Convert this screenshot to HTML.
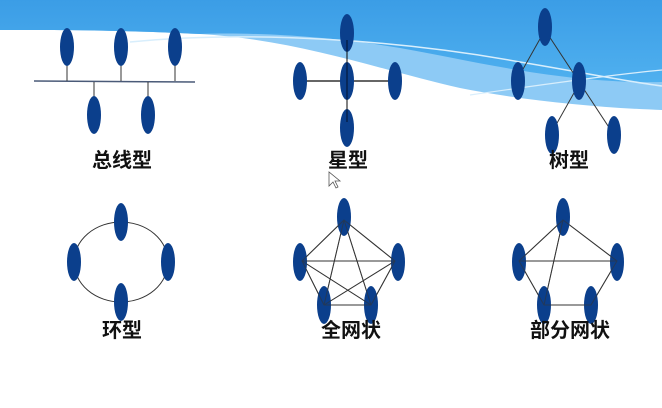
<!DOCTYPE html>
<html><head><meta charset="utf-8"><style>
html,body{margin:0;padding:0;background:#fff;}
svg{display:block}
text{font-family:"Liberation Sans","Noto Sans CJK SC",sans-serif;font-weight:bold;font-size:20px;fill:#111;text-anchor:middle}
</style></head><body>
<svg width="662" height="408" viewBox="0 0 662 408" xmlns="http://www.w3.org/2000/svg">
<defs>
<linearGradient id="g1" x1="0" y1="0" x2="0" y2="1"><stop offset="0" stop-color="#3b9de6"/><stop offset="1" stop-color="#4fb0ef"/></linearGradient>
</defs>
<rect width="662" height="408" fill="#fff"/>
<path d="M0 0H662V110C600 108 520 100 460 88C380 70 300 40 200 34C120 30 60 30 0 30Z" fill="#8dcaf5"/>
<path d="M0 0H662V82C560 84 470 60 400 48C330 36 250 32 200 34C120 30 60 30 0 30Z" fill="url(#g1)"/>
<path d="M130 42C250 30 400 40 520 62C580 72 630 82 662 86" stroke="#d8eefc" stroke-width="1.5" fill="none"/>
<path d="M470 95C540 85 610 75 662 70" stroke="#d8eefc" stroke-width="1.2" fill="none"/>
<g stroke="#333" stroke-width="1" fill="none">
<!-- bus -->
<line x1="34" y1="81" x2="195" y2="82" stroke="#4a5a78" stroke-width="1.5"/>
<line x1="67" y1="60" x2="67" y2="81"/><line x1="121" y1="60" x2="121" y2="81"/><line x1="175" y1="60" x2="175" y2="81"/>
<line x1="94" y1="82" x2="94" y2="100"/><line x1="148" y1="82" x2="148" y2="100"/>
<!-- star -->
<line x1="300" y1="81" x2="395" y2="81" stroke="#666" stroke-width="2"/>
<line x1="347" y1="33" x2="347" y2="128" stroke="#111"/>
<!-- tree -->
<line x1="545" y1="30" x2="518" y2="78"/>
<line x1="545" y1="30" x2="614" y2="135"/>
<line x1="579" y1="84" x2="552" y2="132"/>
<!-- ring -->
<ellipse cx="121" cy="262" rx="47" ry="40"/>
<!-- full mesh -->
<path d="M344 220L302 261L324 305L371 305L395 261Z M344 220L324 305 M344 220L371 305 M302 261L395 261 M302 261L371 305 M395 261L324 305"/>
<!-- partial -->
<path d="M563 220L519 261L544 305L591 305L617 261Z M563 220L544 305 M519 261L617 261"/>
</g>
<g fill="#0b3f8c">
<ellipse cx="67" cy="47" rx="7" ry="19"/><ellipse cx="121" cy="47" rx="7" ry="19"/><ellipse cx="175" cy="47" rx="7" ry="19"/>
<ellipse cx="94" cy="115" rx="7" ry="19"/><ellipse cx="148" cy="115" rx="7" ry="19"/>
<ellipse cx="347" cy="33" rx="7" ry="19"/><ellipse cx="347" cy="81" rx="7" ry="19"/><ellipse cx="347" cy="128" rx="7" ry="19"/>
<ellipse cx="300" cy="81" rx="7" ry="19"/><ellipse cx="395" cy="81" rx="7" ry="19"/>
<ellipse cx="545" cy="27" rx="7" ry="19"/><ellipse cx="518" cy="81" rx="7" ry="19"/><ellipse cx="579" cy="81" rx="7" ry="19"/>
<ellipse cx="552" cy="135" rx="7" ry="19"/><ellipse cx="614" cy="135" rx="7" ry="19"/>
<ellipse cx="121" cy="222" rx="7" ry="19"/><ellipse cx="74" cy="262" rx="7" ry="19"/><ellipse cx="168" cy="262" rx="7" ry="19"/><ellipse cx="121" cy="302" rx="7" ry="19"/>
<ellipse cx="344" cy="217" rx="7" ry="19"/><ellipse cx="300" cy="262" rx="7" ry="19"/><ellipse cx="398" cy="262" rx="7" ry="19"/><ellipse cx="324" cy="305" rx="7" ry="19"/><ellipse cx="371" cy="305" rx="7" ry="19"/>
<ellipse cx="563" cy="217" rx="7" ry="19"/><ellipse cx="519" cy="262" rx="7" ry="19"/><ellipse cx="617" cy="262" rx="7" ry="19"/><ellipse cx="544" cy="305" rx="7" ry="19"/><ellipse cx="591" cy="305" rx="7" ry="19"/>
</g>
<g stroke="#333" stroke-width="1" fill="none">
<path d="M344 220L302 261L324 305L371 305L395 261Z M344 220L324 305 M344 220L371 305 M302 261L395 261 M302 261L371 305 M395 261L324 305" stroke-opacity="0.6"/>
<path d="M563 220L519 261L544 305L591 305L617 261Z M563 220L544 305 M519 261L617 261" stroke-opacity="0.6"/>
<line x1="347" y1="40" x2="347" y2="122" stroke="#000" stroke-opacity="0.7"/>
</g>
<text x="122" y="167">总线型</text>
<text x="348" y="167">星型</text>
<text x="569" y="167">树型</text>
<text x="122" y="337">环型</text>
<text x="351" y="337">全网状</text>
<text x="570" y="337">部分网状</text>
<path d="M329 172L329 186L333 182L336 188L338 187L335 181L340 181Z" fill="#fff" stroke="#555" stroke-width="0.8"/>
</svg>
</body></html>
